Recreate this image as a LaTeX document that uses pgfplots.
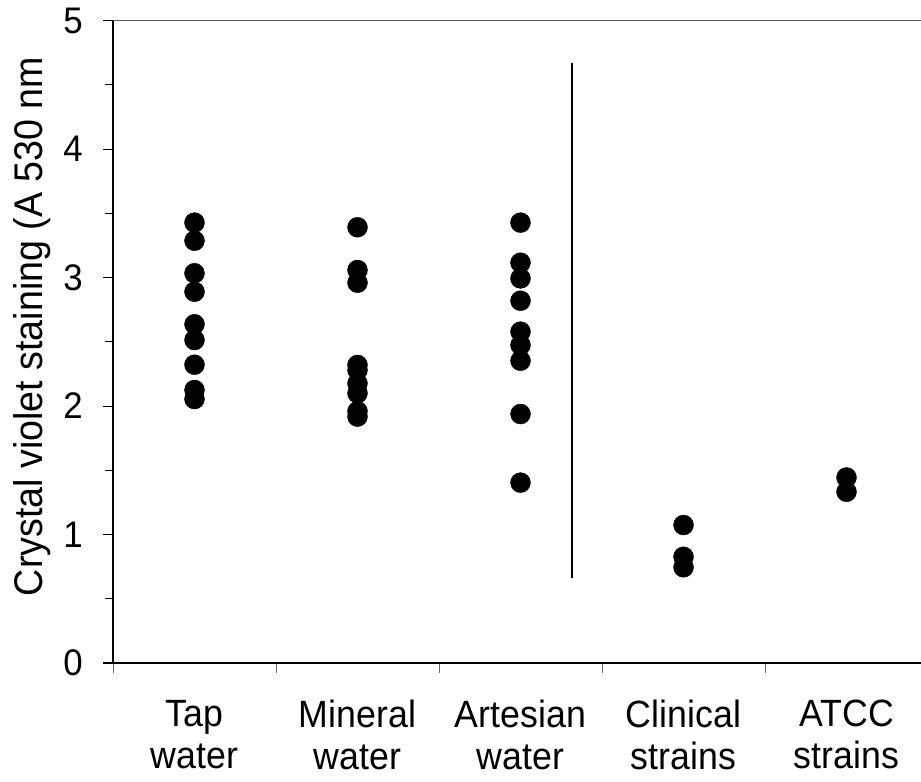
\documentclass[border=0pt]{standalone}
\usepackage{pgfplots}
\pgfplotsset{compat=1.18}
\usepackage{fontspec}
\setmainfont[FakeStretch=0.94]{Liberation Sans}
\begin{document}
\begin{tikzpicture}
\begin{axis}[
  name=ax,
  scale only axis,
  width=808pt, height=642.3pt,
  xmin=0, xmax=4.957,
  ymin=0, ymax=5,
  axis line style={draw=none},
  clip=false,
  tick align=outside,
  xtick pos=bottom,
  ytick pos=left,
  xtick={0,1,2,3,4},
  xticklabels={},
  x tick style={draw=black!60, line width=0.8pt},
  major tick length=10pt,
  minor tick length=8pt,
  extra x ticks={0.5,1.5,2.5,3.5,4.5},
  extra x tick labels={{Tap\\water},{Mineral\\water},{Artesian\\water},{Clinical\\strains},{ATCC\\strains}},
  extra x tick style={major tick length=0pt, tick style={draw=none},
     tick label style={align=center, font=\fontsize{38}{42}\selectfont, inner sep=0pt, yshift=-37pt}},
  ytick={0,1,2,3,4,5},
  minor ytick={0.5,1.5,2.5,3.5,4.5},
  y tick style={draw=black, line width=1pt},
  yticklabel style={font=\fontsize{37}{42}\selectfont, inner sep=0pt, xshift=-20pt},
  /pgf/number format/assume math mode=true,
  ylabel={Crystal violet staining (A 530 nm},
  ylabel style={font=\fontsize{40}{46}\selectfont, at={(axis description cs:-0.077,0.524)}, anchor=south, inner sep=0pt},
]
% axis frame
\draw[line width=1.6pt, black!65] (rel axis cs:0,1) -- (rel axis cs:1,1);
\draw[line width=1.5pt, black] (rel axis cs:0,0) -- (rel axis cs:0,1);
\draw[line width=2.5pt, black] ([xshift=-10pt]rel axis cs:0,0) -- (rel axis cs:1,0);
% divider
\addplot[black, line width=1.8pt, no marks] coordinates {(2.814,0.659) (2.814,4.668)};
% data
\addplot[only marks, mark=*, mark size=10pt, black] coordinates {
 (0.5,3.428) (0.5,3.287) (0.5,3.034) (0.5,2.890) (0.5,2.637) (0.5,2.514) (0.5,2.322) (0.5,2.125) (0.5,2.055)
 (1.5,3.392) (1.5,3.059) (1.5,2.960) (1.5,2.320) (1.5,2.280) (1.5,2.177) (1.5,2.100) (1.5,1.960) (1.5,1.918)
 (2.5,3.428) (2.5,3.116) (2.5,2.994) (2.5,2.820) (2.5,2.579) (2.5,2.475) (2.5,2.353) (2.5,1.938) (2.5,1.404)
 (3.5,1.074) (3.5,0.827) (3.5,0.745)
 (4.5,1.444) (4.5,1.333)
};
\end{axis}
\pgfresetboundingbox
\useasboundingbox ([shift={(-113pt,-119pt)}]ax.south west) rectangle ([shift={(0pt,20.7pt)}]ax.north east);
\end{tikzpicture}
\end{document}
